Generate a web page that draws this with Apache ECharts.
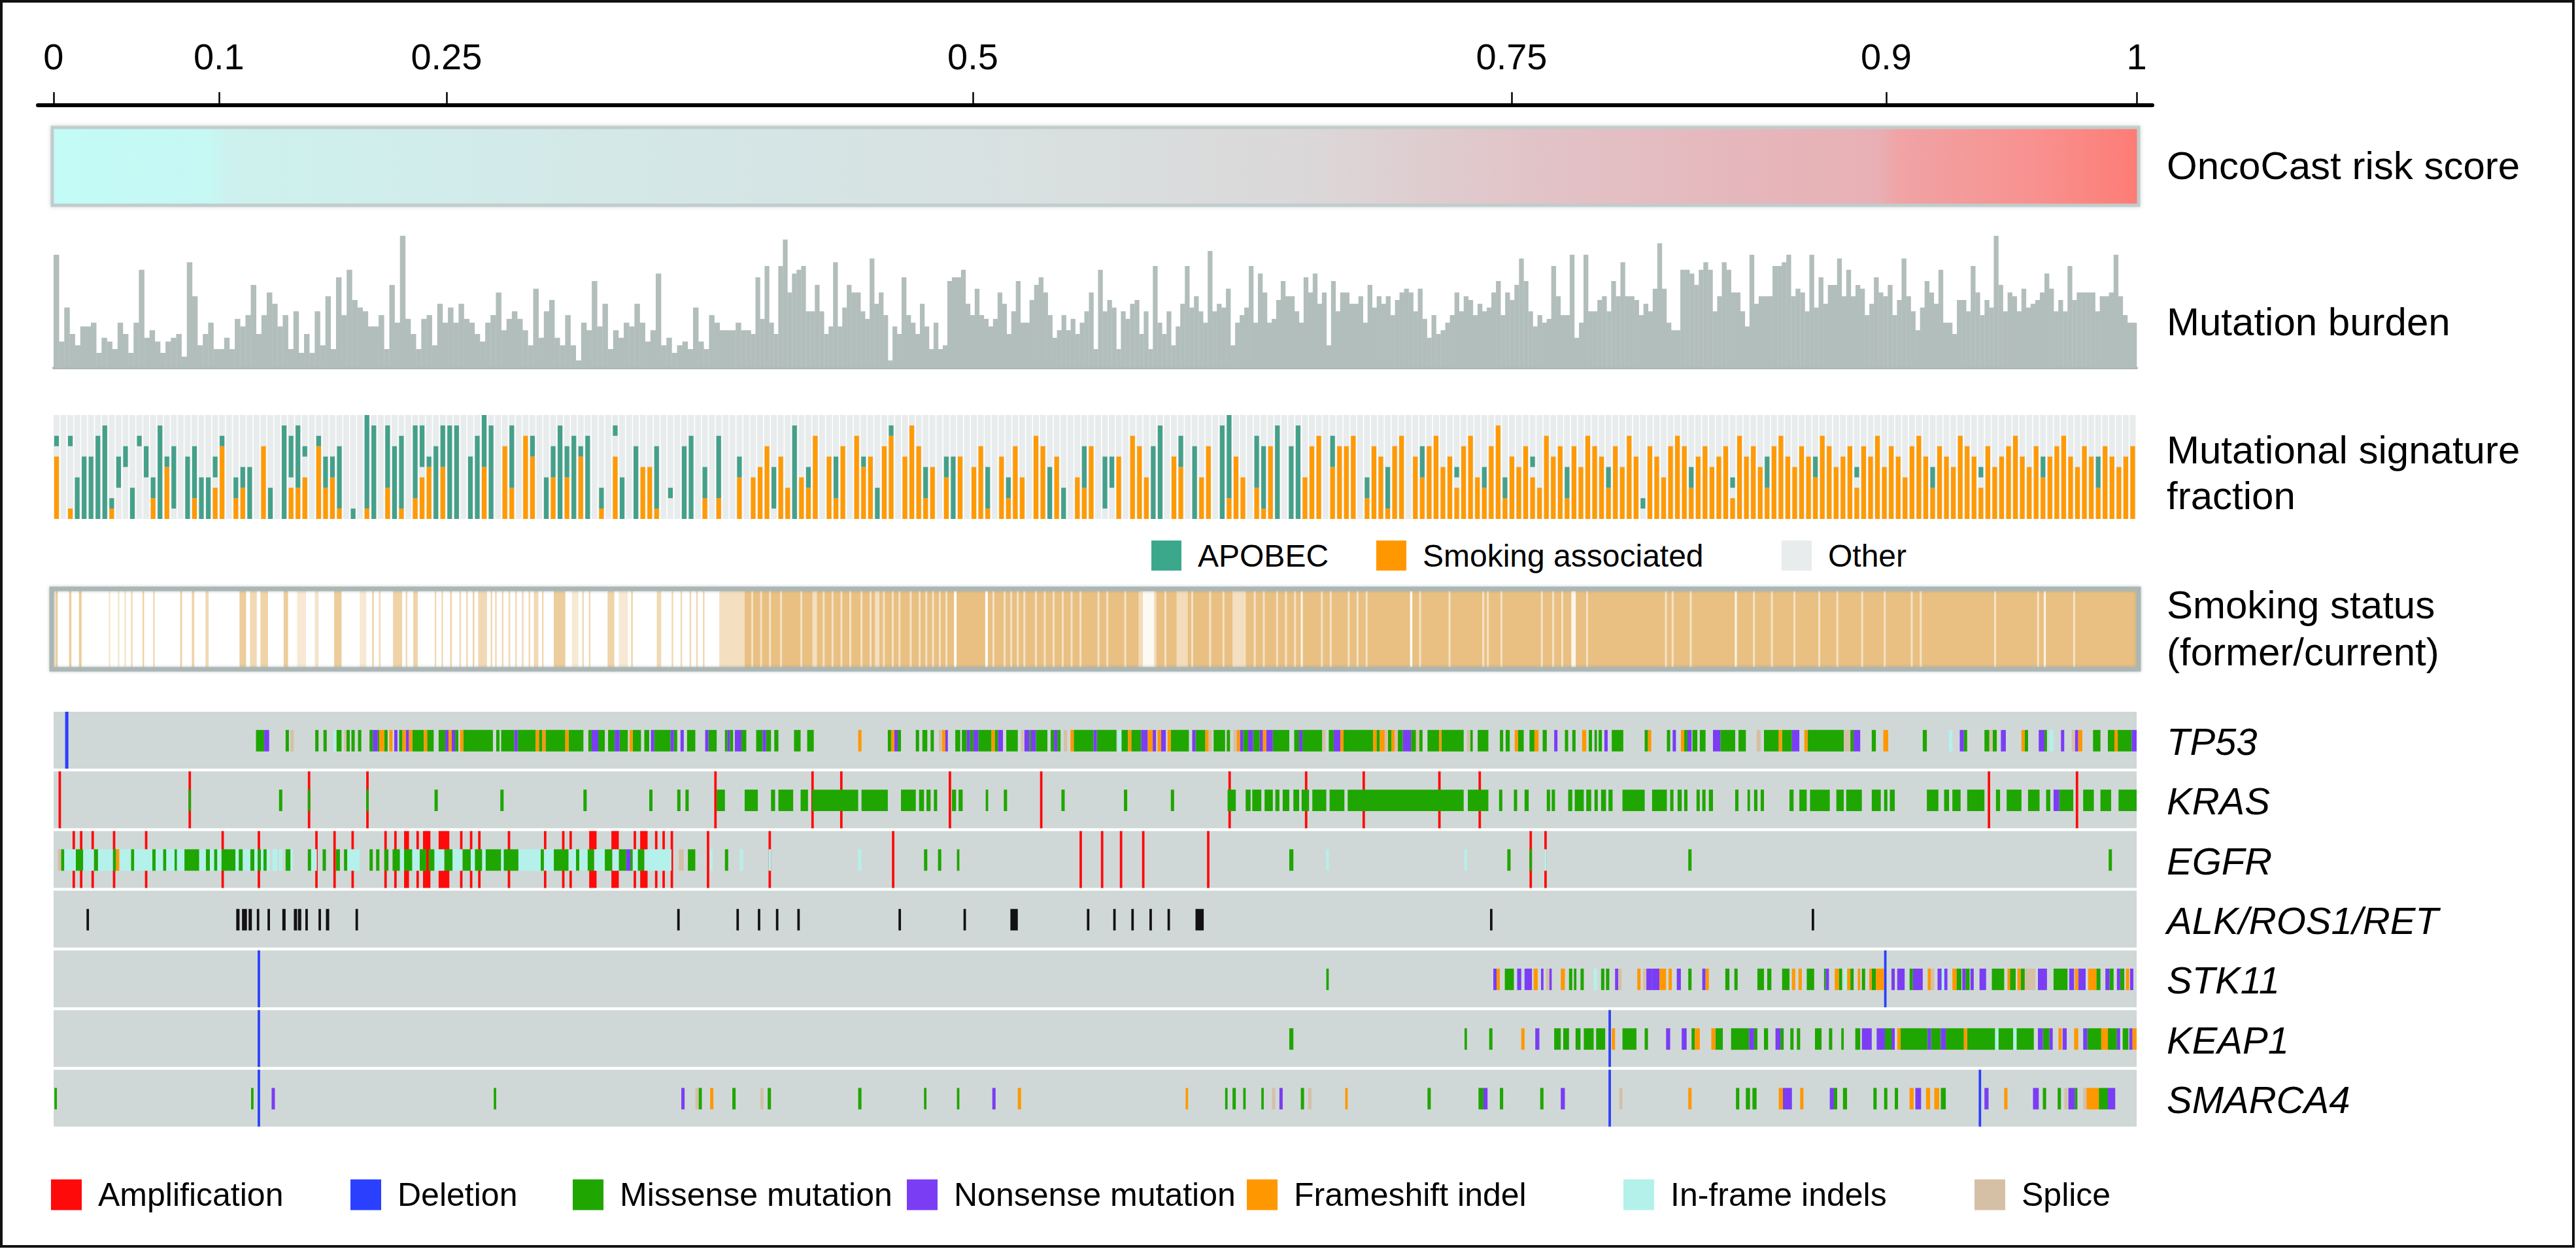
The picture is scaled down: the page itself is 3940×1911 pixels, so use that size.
<!DOCTYPE html>
<html><head><meta charset="utf-8">
<script src="https://cdn.jsdelivr.net/npm/echarts@6/dist/echarts.min.js"></script>
<style>html,body{margin:0;padding:0;background:#fff}#chart{width:3940px;height:1911px}</style>
</head><body><div id="chart"></div>
<script>
// ---------------- DATA ----------------
const nRanks = 1266; // patients ordered by OncoCast risk (rank axis extent)
const riskTickLabels = ['0', '0.1', '0.25', '0.5', '0.75', '0.9', '1'];
const riskTickRanks = [0, 100.5, 238.8, 558.7, 886.1, 1113.8, 1266];

// mutation burden (relative heights), three consecutive rank chunks
const burdenSpanLow = [0, 421], burdenSpanMid = [421, 843], burdenSpanHigh = [843, 1266];
const burdenLow = [30,7,16,9,6,11,11,12,4,8,7,5,12,9,4,12,26,8,10,7,4,7,8,9,3,28,19,6,9,12,5,5,8,5,13,11,14,22,9,14,20,17,11,14,5,15,4,9,4,15,6,19,5,24,14,26,18,16,15,11,11,14,5,22,12,35,13,9,5,13,14,6,17,12,16,12,17,13,12,9,7,12,14,20,10,13,15,13,10,6,21,8,15,18,8,6,14,6,2,12,10,23,11,17,5,10,8,12,11,17,12,7,10,25,6,8,4,6,7,5,16,7,5,14,12,10,10,10,12,10];
const burdenMid = [10,9,24,13,27,12,9,27,34,20,25,26,27,15,15,22,15,9,11,28,11,16,22,20,20,15,13,29,17,20,14,2,11,9,24,14,12,9,17,11,5,12,5,6,23,24,24,26,17,14,21,14,13,11,13,20,17,9,15,23,12,12,18,22,24,20,14,8,10,14,10,13,9,12,15,20,5,26,15,18,16,5,15,13,17,18,9,15,5,27,12,9,15,6,11,17,27,16,19,15,12,31,15,17,16,21,6,12,14,16,27,12,25,20,12,13,18,23,19,19,15,12,24,20,25,17,20,6,23,15,20,20,17,17,19,12,22,16,19,17,19,14,18,20,21,20,15,21,13,8,14,9];
const burdenHigh = [10,12,14,20,15,19,18,14,17,15,16,20,23,14,20,18,22,29,23,15,11,14,12,13,27,19,14,14,30,8,12,30,15,15,18,19,15,23,19,28,19,19,18,14,17,15,21,33,21,12,10,10,26,26,25,22,26,28,26,15,19,28,26,20,20,15,11,30,17,19,19,19,27,27,28,30,19,21,20,15,30,16,24,17,22,22,29,19,26,19,22,21,14,17,24,20,19,22,14,18,29,19,15,10,16,23,20,17,26,12,12,9,18,18,15,27,20,14,18,16,35,22,15,20,19,15,21,16,17,18,20,25,21,15,18,15,27,18,20,20,20,20,15,19,19,20,30,19,14,12,12];

// mutational signature per column: token "s g a" = smoking tenths, other-gap tenths, APOBEC tenths
const sigLeft = "611 000 161 004 006 006 008 009 101 033 052 003 071 043 202 009 501 016 000 006 205 004 004 312 701 000 202 302 005 000 700 003 000 009 314 306 421 000 701 303 402 106 000 001 000 109 009 000 306 007 107 000 207 414 501 007 504 009 009 000 006 008 505 009 000 700 306 000 800 602 000 004 403 009 403 008 601 008 000 102 000 621 004 000 007 500 500 106 000 021 000 007 008 000 203 000 206 000 000 402 000 400";
const sigMiddle = "500 700 014 600 300 009 400 302 800 000 600 204 700 000 800 501 600 003 700 801 000 600 900 700 203 500 000 402 006 600 000 500 700 104 000 600 202 700 400 000 800 700 005 600 003 000 400 304 700 000 015 033 600 000 800 700 400 007 009 000 600 503 000 007 400 700 000 009 208 600 400 000 305 106 700 009 000 007 009 400 700 800 000 503 700 700 800 000 202 700 600 104 700 800 000 600 403 700 800 500";
const sigRight = "600 311 700 800 400 302 700 900 202 600 500 700 411 300 800 600 700 203 700 500 800 700 600 302 700 500 800 600 011 700 600 400 700 800 700 302 600 700 500 600 700 211 800 600 700 500 303 700 800 600 500 700 600 402 800 700 500 600 700 311 700 600 800 500 700 600 400 700 800 600 302 700 600 500 800 700 600 311 700 500 600 700 800 600 500 700 402 600 700 800 600 500 700 600 303 700 600 500 600 700";

// smoking status: [rankFrom, rankTo, opacity]
const smokerStripesLeft = [[0,1,0.4],[1.3,2.5,0.8],[9.4,10.8,0.8],[15.4,17,0.8],[33.5,34.5,0.4],[39,40,0.4],[43,44,0.4],[47,48,0.6],[54,55,0.7],[60.5,61.5,0.6],[77,78,0.8],[84,85.5,0.7],[92.3,94.2,0.6],[113,117,0.8],[119.4,123.5,0.6],[125.7,130.3,0.7],[139.8,142.5,0.8],[148,153.4,0.35],[158.8,161,0.45],[170.5,175,0.8],[186,190,0.35],[193.6,194.6,0.7],[197.7,198.7,0.6],[206.3,211.8,0.7],[214,215,0.6],[218.6,221.3,0.7],[231.6,232.6,0.6],[235.7,236.7,0.6],[241,242,0.7],[246.6,247.6,0.6],[250.7,251.7,0.6],[254.7,255.7,0.7],[258,263.4,0.6],[265.6,266.6,0.6],[268.3,269.3,0.6],[272.4,273.4,0.6],[276.5,277.5,0.6],[280.5,281.5,0.6],[284.6,285.6,0.6],[288.7,289.7,0.6],[291.9,294.6,0.6],[296.8,297.8,0.6],[304,311,0.8],[315,319,0.35],[321.3,322.3,0.6],[325.3,326.3,0.6],[336.7,340.8,0.7],[343.5,349,0.35],[351,352,0.7],[366.6,369.3,0.6],[375.6,376.6,0.6],[381,382,0.6],[386.5,387.5,0.6],[390.5,391.5,0.6],[394.6,395.6,0.6],[404.6,420,0.5]];
const smokerBlockRight = [420, 1266, 1];
const neverStripesRight = [[424,425.2,0.55],[429.4,430.6,0.55],[434.8,436,0.55],[441.5,442.7,0.55],[453.8,455,0.55],[461.2,463.9,0.5],[467.4,468.6,0.55],[472.8,474,0.55],[478.2,479.4,0.55],[483.6,484.8,0.55],[490.4,491.6,0.55],[495.9,497.1,0.55],[499.2,501.9,0.5],[504,505.2,0.55],[509.4,510.6,0.55],[513.5,514.7,0.55],[520.3,521.5,0.55],[525.7,526.9,0.55],[529.8,531,0.55],[533.9,535.1,0.55],[538,539.2,0.55],[542,543.2,0.55],[547.2,548.8,0.95],[566.2,567.8,0.95],[570.6,571.8,0.55],[577.4,578.6,0.55],[581.4,582.6,0.55],[585.4,586.6,0.55],[589.4,590.6,0.55],[596.4,597.6,0.55],[601.8,603,0.55],[607.2,608.4,0.55],[612.7,613.9,0.55],[618.1,619.3,0.55],[623.5,624.7,0.55],[634.4,635.6,0.55],[639.8,641,0.55],[650.7,651.9,0.55],[659.4,662,0.45],[662,668.9,0.9],[668.9,670.3,0.45],[675.1,676.3,0.55],[682.5,689.3,0.45],[691.4,692.6,0.55],[702.3,703.5,0.55],[710.4,711.6,0.55],[716.5,724.6,0.5],[729.4,730.6,0.55],[734.9,736.1,0.55],[743,744.2,0.55],[748.4,749.6,0.55],[753.9,755.1,0.55],[758,759.2,0.85],[770.2,771.4,0.55],[775.6,776.8,0.55],[786.5,787.7,0.55],[791.9,793.1,0.55],[797.4,798.6,0.55],[824.4,825.8,0.95],[829.9,831.1,0.55],[847.8,849,0.55],[868.3,869.5,0.55],[871.1,872.3,0.55],[879.3,880.5,0.55],[903.9,905.1,0.55],[910.8,912,0.55],[916.3,917.5,0.55],[922.4,925.1,0.85],[931.4,932.6,0.55],[979.3,980.5,0.55],[983.4,984.6,0.55],[994.4,995.6,0.55],[1021.8,1023,0.85],[1032.8,1034,0.55],[1043.7,1044.9,0.55],[1057.4,1058.6,0.55],[1072.5,1073.7,0.55],[1083.5,1084.7,0.55],[1098.6,1099.8,0.55],[1112.3,1113.5,0.55],[1128.7,1129.9,0.55],[1134.2,1135.4,0.55],[1179.4,1180.6,0.55],[1205.5,1206.7,0.55],[1209.6,1210.8,0.85],[1227.4,1228.6,0.55]];

// gene alterations: "from-to:type" on the rank axis
// a=amplification d=deletion m=missense n=nonsense f=frameshift i=in-frame s=splice x=fusion
const geneNames = ['TP53', 'KRAS', 'EGFR', 'ALK/ROS1/RET', 'STK11', 'KEAP1', 'SMARCA4'];
const tp53Alts = "7-9:d 123-128:m 128-131:n 141-143:m 144-146:s 159-161:m 164-166:m 170-171.5:i 172-175:m 176.5-178:s 178-180:m 181-183:m 185-187:m 192-194:m 194-197:n 197-198:m 198-201:f 201-203:m 204-206:f 207-209:n 210-212:m 212-214:f 214-216:n 216-218:f 218-225:m 225-227:f 227-231:m 234-238:m 238-240:n 240-242:f 242-244:n 244-246:m 247-249:f 249-267:m 269-271:m 272-280:m 280-282:n 282-293:m 293-295:f 295-297:m 297-299:f 299-311:m 311-313:f 313-322:m 325-327:m 327-331:n 331-335:m 337-341:m 341-344:n 344-349:m 350-352:f 352-357:m 359-362:m 363-365:n 365-375:m 375-377:n 377-379:m 381-383:n 385-390:m 396-398:n 398-403:m 408-409.5:m 409.5-411:n 411-413:m 414-418:n 418-421:m 427-431:m 431-433:n 433-436:m 438-440.5:m 450-454:m 458-462:m 489-491:f 507-509:m 509-511:f 511-513:n 513-515:m 524-526:m 528-531:m 533-535:m 538-540:s 540-542:f 542-543.5:n 548-551:m 552-555:m 555-557:n 557-559:m 559-562:n 562-570:m 570-572:f 572-574:m 574-577:n 579-586:m 588-589.5:s 590-593:n 593-594:m 594-597:n 597-604:m 606-608:m 608-610:n 610-612:m 614-616:s 618-620:f 620-632:m 632-634:n 634-646:m 647-649:i 649-653:m 653-655:f 655-661:m 661-665:n 665-668:f 668-670:n 670-671:s 671-673:f 673-676:n 677-679:f 679-690:m 692-694:n 694-700:m 700-702:f 702-704:s 705-712:m 713-715:m 717-719:s 719-721:f 721-723:n 723-726:m 726-729:n 729-733:m 733-735:n 735-737:f 737-741:n 741-751:m 754-757:m 757-759:n 759-771:m 771-773:s 775-778:m 778-782:n 782-784:f 784-802:m 802-804:f 804-806:m 806-809:f 809-811:s 811-813:m 813-815:f 815-817:s 817-820:m 820-825:n 825-828:m 828-830:s 830-832:m 835-842:m 842-843.5:f 843.5-857:m 859-861:s 861-862.5:m 865.5-872:m 879-881:m 882.5-885:m 888-890:f 890-893.5:m 897-900:m 900-902.5:f 905-907.5:m 912-914:n 918.5-920.5:m 923-925:m 929-931.5:f 933-935:m 936.5-938:m 939-941:m 942.5-944.5:n 947-954:m 967-969:m 969-971:f 980.5-982.5:m 984-986:n 989-991:f 991-993:m 993-995.5:n 996-999:m 1000.5-1004:m 1008.5-1013:n 1013-1022:m 1024-1028.5:m 1035-1037.5:s 1039.5-1048.5:m 1048.5-1050.5:f 1050.5-1056.5:m 1056.5-1061:n 1064-1066:f 1066-1088:m 1088-1092:s 1092-1094:m 1094-1098:n 1105-1107.5:m 1112-1115:f 1136-1138.5:m 1152-1154:i 1158.5-1161:n 1161-1163:m 1173.5-1176.5:m 1176.5-1178.5:s 1178.5-1181:m 1183.5-1186.5:n 1196-1198:f 1198-1200:m 1206.5-1210:n 1210-1211.5:m 1213-1215.5:i 1220-1222:n 1226.5-1228.5:s 1228.5-1230.5:n 1230.5-1233:f 1239.5-1244:m 1248.5-1252.5:m 1252.5-1254.5:f 1254.5-1263:m 1263-1266:n";
const krasAlts = "3-4.5:a 82-83.5:a 82-83.5:m 137-139:m 154.5-156:a 154.5-156:m 190-191.5:a 190-191.5:m 231.5-233.5:m 271.5-273.5:m 322-324:m 362-364:m 379-381:m 384-386:m 401.5-403:a 403-408:m 420-428:m 436-438.5:m 440.5-449.5:m 454-458.5:m 460.5-462:a 461-489:m 478-479.5:a 491-507:m 515-524:m 526-529:m 530.5-533:m 535-537:m 544-545.5:a 546-548.5:m 550-552.5:m 566.5-568:m 577.5-579.5:m 599.5-601:a 612.5-614.5:m 650.5-652.5:m 679-681:m 714-715.5:a 713.5-718.5:m 724.5-727.5:m 728.5-734:m 736-741:m 742.5-745:m 747-751:m 753.5-757:m 760.5-762:a 758.5-763:m 765-773.5:m 775.5-784.5:m 795.5-797:a 841.5-843:a 786.5-857:m 866-867.5:a 859.5-872:m 878.5-880.5:m 887.5-889.5:m 894-896.5:m 907.5-909.5:m 910.5-912.5:m 920.5-923:m 924.5-930:m 931.5-934.5:m 936.5-938.5:m 940.5-943.5:m 945-947.5:m 953.5-967:m 971.5-980.5:m 982.5-984.5:m 987-989.5:m 991-993:m 998.5-1000.5:m 1002-1004:m 1006-1008.5:m 1022-1024:m 1029.5-1031:m 1033.5-1035.5:m 1037.5-1039.5:m 1055-1057.5:m 1061-1065.5:m 1067.5-1079.5:m 1083.5-1088:m 1089.5-1099:m 1105-1110.5:m 1112.5-1114.5:m 1116-1119:m 1138.5-1145.5:m 1149-1152:m 1154-1159:m 1163-1173.5:m 1175.5-1177:a 1180.5-1183:m 1187-1196:m 1200-1207:m 1211-1213.5:m 1215.5-1219:n 1229-1230.5:a 1219-1227.5:m 1233.5-1240:m 1244-1250.5:m 1255-1266:m";
const egfrAmps = "11.5-13:a 16-17.5:a 23-24.5:a 36-37.5:a 55.5-57:a 102-103.5:a 124-125.5:a 159-160.5:a 170-171.5:a 181-182.5:a 201-202.5:a 207-208.5:a 213-216:a 220.5-222:a 224.5-229:a 234-240.5:a 247-248.5:a 253-254.5:a 258-259.5:a 276-277.5:a 298-299.5:a 309-310.5:a 313.5-315:a 325.5-330:a 339-343.5:a 352.5-354:a 356.5-361:a 365.5-367:a 370-371.5:a 375-376.5:a 397-398.5:a 434.5-436:a 509.5-511:a 623.5-625:a 636.5-638:a 648-649.5:a 661.5-663:a 701-702.5:a 897-898.5:a 906-907.5:a";
const egfrMutations = "2.5-4.5:s 4.5-6.5:m 6.5-13.5:i 13.5-18:m 18-24.5:i 24.5-27:m 27-36:i 36-38:m 38-40:f 40-47:i 47-49:m 49-60:i 60-62:m 62-66.5:i 66.5-68.5:m 68.5-73.5:i 73.5-75:m 75-79.5:i 79.5-88.5:m 88.5-92.5:i 92.5-95:m 95-97.5:i 97.5-99.5:m 99.5-102:i 102-110.5:m 110.5-112.5:i 112.5-115:m 115-119.5:i 119.5-122:m 122-124:i 124-126:m 126-127.5:i 127.5-129.5:m 129.5-131.5:i 133-136:i 137-139:i 141-144:m 144-145.5:i 154.5-156.5:m 156.5-160:i 163.5-165.5:m 171.5-174:m 176.5-178.5:m 178.5-186:i 192-194:m 196-198:m 201-203.5:m 206-210.5:m 210.5-213:i 213-218:m 218-222.5:i 222.5-226.5:m 228-231.5:m 231.5-237.5:i 237.5-242.5:m 242.5-248.5:i 248.5-253.5:m 253.5-256:i 256-260.5:m 260.5-262.5:i 262.5-272:m 272-273.5:i 273.5-282.5:m 282.5-296:i 296-298:m 298-304:i 304-313:m 313-317.5:i 317.5-319.5:m 319.5-324.5:i 324.5-328.5:m 328.5-335:i 335-339.5:m 339.5-343.5:i 343.5-348:m 348-350.5:n 350.5-352:m 352-355:i 355-359:m 359-375.5:i 380-383:s 385.5-390:m 399-400.5:i 408-410:m 417-419:i 434.5-436:i 489-491:i 529-531:m 537.5-539.5:m 549-550.5:m 751-753.5:m 773.5-775:i 857.5-859:i 883.5-885.5:m 897-898.5:m 906-907.5:i 993.5-995.5:m 1249-1251:m";
const fusionAlts = "20-21.5:x 111-113:x 114.5-117.5:x 118.5-120.5:x 123.5-125:x 130-131.5:x 139-141:x 146-148:x 148.5-150.5:x 153-154.5:x 161-162.5:x 165.5-167.5:x 183.5-185:x 379-380.5:x 415-416.5:x 428-429.5:x 439-440.5:x 452-453.5:x 513.5-515:x 553-554.5:x 581.5-586:x 628-629.5:x 644-645.5:x 655-656.5:x 666-667.5:x 677-678.5:x 694-699:x 873-874.5:x 1068.5-1070:x";
const stk11Alts = "124-125.5:d 773.5-775:m 875-877:n 877-879:f 882-887.5:m 889.5-892:n 894-898.5:n 899.5-902:f 904-905.5:n 907-909:s 909-910.5:n 916-918.5:f 921-923:m 924-925.5:m 928-930:m 936-938:i 940.5-942.5:m 943.5-945.5:m 949-951:n 951-953:s 962.5-964.5:f 966-968:s 968-971.5:n 971.5-976:n 976-980:f 981.5-983.5:f 986.5-989:n 993.5-995.5:m 1002-1004:n 1004-1006:f 1016-1018.5:m 1021.5-1023.5:m 1035.5-1039.5:m 1041.5-1044:m 1050.5-1055:m 1056.5-1058.5:f 1060.5-1062.5:f 1065.5-1070:m 1076-1077:m 1077-1079:n 1082.5-1085:f 1085-1087:m 1088-1090:i 1090-1092:f 1092-1094:m 1096.5-1098:f 1099-1101:m 1103.5-1105:f 1105-1107.5:m 1107.5-1112.5:f 1112.5-1114:d 1117-1119:n 1120.5-1125:n 1128-1130:m 1130-1136:n 1139-1141:f 1141-1143:s 1145-1147.5:n 1147.5-1149:i 1149-1151:n 1154-1156.5:f 1156.5-1159.5:m 1160-1162:n 1162-1164.5:m 1165-1167:n 1170.5-1174.5:n 1178-1185.5:m 1187.5-1189:f 1189-1192.5:m 1193.5-1195.5:f 1195.5-1198:m 1198-1204.5:s 1206-1211.5:n 1215.5-1224:m 1225-1228:n 1228.5-1230.5:f 1230.5-1235:n 1236.5-1241.5:f 1241.5-1244:m 1247-1249.5:n 1249.5-1252:m 1254-1256:n 1256-1258.5:m 1259.5-1261.5:f 1262-1264:n";
const keap1Alts = "124-125.5:d 751-753.5:m 857.5-859:m 872.5-874.5:m 892-894:f 900.5-903:n 912-916:m 917.5-921:m 925-928:m 930-936:m 937.5-943:m 945-946.5:d 947-949:f 953.5-962:m 967-969:m 980-982.5:n 989.5-992.5:n 995.5-997.5:m 997.5-1000.5:f 1007.5-1010:f 1010-1014.5:m 1019.5-1030.5:m 1030.5-1033.5:n 1033.5-1035.5:m 1039.5-1042:m 1046.5-1049.5:n 1049.5-1051.5:m 1055.5-1057.5:m 1059.5-1061.5:m 1070.5-1074.5:m 1079-1081:m 1086.5-1088:m 1095-1098:m 1099-1105:n 1108-1113:n 1113-1117:m 1117-1119:n 1120.5-1122.5:f 1122.5-1139:m 1139-1141:n 1141-1147:m 1147-1150:n 1150-1161:m 1161-1163:f 1163-1180:m 1180-1182:i 1182-1191:m 1191-1193:i 1193-1203.5:m 1206-1209:n 1209-1213:m 1213-1215:n 1218.5-1220.5:f 1221-1223.5:n 1228-1230.5:f 1233.5-1236:n 1236-1244.5:m 1244.5-1248.5:f 1248.5-1254:m 1254-1256:n 1257.5-1261:m 1261.5-1263.5:n 1263.5-1266:f";
const smarca4Alts = "0.5-2:m 120-121.5:m 124-125.5:d 132.5-134.5:n 267.5-269:m 381.5-383.5:n 390-392:s 392-394:m 399-401:f 412.5-414.5:m 429.5-431.5:s 434-436:m 489-491:m 529-530.5:m 549-550.5:m 570.5-572.5:n 586-588:f 688-689.5:f 712-713.5:m 716.5-718.5:m 723-724.5:m 734-735.5:m 740.5-742.5:s 745-747:n 758-760:m 762.5-764.5:s 785-786.5:f 835-837:m 866-869:m 869-871.5:n 879-881:m 903.5-905.5:m 916-918.5:n 945-946.5:d 951.5-953.5:s 993.5-995.5:f 1022.5-1024.5:m 1028.5-1031:m 1032.5-1035:m 1048.5-1051:f 1051-1056.5:n 1061.5-1063.5:f 1079.5-1082:n 1082-1084:m 1087.5-1090:m 1106-1108:m 1112.5-1114.5:m 1119-1121:m 1128-1130.5:f 1131.5-1135:n 1138-1140.5:f 1143-1146:f 1147-1150:m 1170-1171.5:d 1173.5-1176:n 1185.5-1187.5:f 1203-1206.5:n 1209-1211:m 1218-1220:m 1222-1224:s 1224.5-1228.5:n 1228.5-1230:m 1233.5-1235.5:s 1235.5-1243:f 1243-1248.5:m 1248.5-1253:n";

// ---------------- STYLE ----------------
const FONT = 'Liberation Sans, Arial, Helvetica, sans-serif';
const riskStops = [[0,'#c3fbf6'],[0.075,'#c6f8f4'],[0.085,'#cdf1ee'],[0.25,'#d3e9e8'],[0.45,'#d8e1e1'],[0.6,'#dbd8d9'],[0.7,'#e1c5c9'],[0.8,'#e5b8bd'],[0.875,'#e8b0b4'],[0.885,'#f0a3a5'],[0.95,'#f8918f'],[1,'#fd7c75']];
const altTypes = [
  {code:'a', name:'Amplification', color:'#ff0a0a', full:true},
  {code:'m', name:'Missense mutation', color:'#1fa600'},
  {code:'n', name:'Nonsense mutation', color:'#7a3df4'},
  {code:'f', name:'Frameshift indel', color:'#ff9800'},
  {code:'i', name:'In-frame indels', color:'#b4f1eb'},
  {code:'s', name:'Splice', color:'#d5c0a6'},
  {code:'x', name:'Fusion', color:'#121212'},
  {code:'d', name:'Deletion', color:'#2b40ff', full:true}
];

// ---------------- PARSE ----------------
function parseAlts(str) {
  return str.trim().split(/\s+/).map(t => {
    const [r, c] = t.split(':');
    const [a, b] = r.split('-').map(Number);
    return [a, b, c];
  });
}
const geneRows = [tp53Alts, krasAlts, egfrAmps + ' ' + egfrMutations, fusionAlts, stk11Alts, keap1Alts, smarca4Alts];
const altData = {};
altTypes.forEach(t => altData[t.code] = []);
geneRows.forEach((s, gi) => parseAlts(s).forEach(([a, b, c]) => altData[c].push([a, b, gi])));

function parseSig(str) { return str.trim().split(/\s+/).map(t => [+t[0], +t[1], +t[2]]); }
const sigCols = parseSig(sigLeft).concat(parseSig(sigMiddle), parseSig(sigRight));
const sigData = sigCols.map((c, i) => [i, c[0], c[1], c[2]]);
const sigCount = sigCols.length;

function burdenBars(values, span) {
  const w = (span[1] - span[0]) / values.length;
  return values.map((v, i) => [span[0] + i * w, span[0] + (i + 1) * w, v]);
}
const burdenData = burdenBars(burdenLow, burdenSpanLow).concat(burdenBars(burdenMid, burdenSpanMid), burdenBars(burdenHigh, burdenSpanHigh));

const smokingData = smokerStripesLeft.map(s => [s[0], s[1], s[2], 1])
  .concat([[smokerBlockRight[0], smokerBlockRight[1], smokerBlockRight[2], 1]])
  .concat(neverStripesRight.map(s => [s[0], s[1], s[2], 0]));

// ---------------- RENDERERS ----------------
function altRenderer(color, full) {
  return function (params, api) {
    const row = api.value(2);
    const p0 = api.coord([api.value(0), row]);
    const p1 = api.coord([api.value(1), row]);
    const band = api.size([0, 1])[1];
    const top = p0[1] - band / 2;
    const y = full ? top : top + band * 0.305;
    const h = full ? band * 0.953 : band * 0.36;
    return {type: 'rect', shape: {x: p0[0], y: y, width: Math.max(p1[0] - p0[0], 2.5), height: h}, style: {fill: color}};
  };
}
function sigRenderer(kind, color) {
  return function (params, api) {
    const cs = params.coordSys;
    const i = api.value(0), s = api.value(1), g = api.value(2), a = api.value(3);
    const x0 = api.coord([i, 0])[0], x1 = api.coord([i + 1, 0])[0];
    const w = x1 - x0, H = cs.height, bottom = cs.y + cs.height;
    if (kind === 'other') return {type: 'rect', shape: {x: x0, y: cs.y, width: w - 1.6, height: H}, style: {fill: color}};
    const bw = w * 0.68, bx = x0 + (w - 1.6 - bw) / 2;
    if (kind === 'smoke') {
      if (!s) return null;
      return {type: 'rect', shape: {x: bx, y: bottom - s / 10 * H, width: bw, height: s / 10 * H}, style: {fill: color}};
    }
    if (!a) return null;
    const yb = bottom - (s + g) / 10 * H;
    return {type: 'rect', shape: {x: bx, y: yb - a / 10 * H, width: bw, height: a / 10 * H}, style: {fill: color}};
  };
}

const series = [];
// risk score bar
series.push({
  type: 'custom', name: 'risk', xAxisIndex: 1, yAxisIndex: 1, silent: true,
  data: [[0, nRanks]],
  renderItem(params, api) {
    const cs = params.coordSys;
    const x0 = api.coord([api.value(0), 0])[0], x1 = api.coord([api.value(1), 0])[0];
    return {type: 'rect', shape: {x: x0 - 2, y: cs.y + 2, width: x1 - x0 + 5, height: cs.height - 4},
      style: {fill: new echarts.graphic.LinearGradient(0, 0, 1, 0, riskStops.map(s => ({offset: s[0], color: s[1]}))),
        stroke: '#c1cccc', lineWidth: 5, shadowBlur: 6, shadowColor: 'rgba(110,130,130,0.35)'}};
  }
});
// mutation burden
series.push({
  type: 'custom', name: 'burden', xAxisIndex: 2, yAxisIndex: 2, silent: true,
  encode: {x: [0, 1], y: 2}, data: burdenData,
  renderItem(params, api) {
    const p0 = api.coord([api.value(0), api.value(2)]);
    const p1 = api.coord([api.value(1), 0]);
    return {type: 'rect', shape: {x: p0[0], y: p0[1], width: p1[0] - p0[0] + 0.3, height: p1[1] - p0[1]}, style: {fill: '#b2bebb'}};
  }
});
// signature
series.push({type: 'custom', name: 'Other', xAxisIndex: 3, yAxisIndex: 3, silent: true, itemStyle: {color: '#e8ecec'}, encode: {x: 0}, data: sigData, renderItem: sigRenderer('other', '#e8ecec')});
series.push({type: 'custom', name: 'Smoking associated', xAxisIndex: 3, yAxisIndex: 3, silent: true, itemStyle: {color: '#ff9800'}, encode: {x: 0}, data: sigData, renderItem: sigRenderer('smoke', '#ff9a05')});
series.push({type: 'custom', name: 'APOBEC', xAxisIndex: 3, yAxisIndex: 3, silent: true, itemStyle: {color: '#3ba88c'}, encode: {x: 0}, data: sigData, renderItem: sigRenderer('apobec', '#45a08a')});
// smoking status
series.push({
  type: 'custom', name: 'smoking', xAxisIndex: 4, yAxisIndex: 4, silent: true,
  encode: {x: [0, 1]}, data: smokingData,
  renderItem(params, api) {
    const cs = params.coordSys;
    const x0 = api.coord([api.value(0), 0])[0], x1 = api.coord([api.value(1), 0])[0];
    const smoker = api.value(3) === 1;
    const col = smoker ? 'rgba(233,192,130,' + api.value(2) + ')' : 'rgba(255,255,255,' + api.value(2) + ')';
    return {type: 'rect', shape: {x: x0, y: cs.y, width: Math.max(x1 - x0, 2), height: cs.height}, style: {fill: col}};
  }
});
series.push({
  type: 'custom', name: 'smokingFrame', xAxisIndex: 4, yAxisIndex: 4, silent: true, data: [[0, nRanks]],
  renderItem(params, api) {
    const cs = params.coordSys;
    const x0 = api.coord([api.value(0), 0])[0], x1 = api.coord([api.value(1), 0])[0];
    return {type: 'rect', shape: {x: x0 - 3, y: cs.y + 3, width: x1 - x0 + 6, height: cs.height - 6},
      style: {fill: 'none', stroke: '#abb7b6', lineWidth: 7, shadowBlur: 5, shadowColor: 'rgba(120,135,135,0.45)'}};
  }
});
// gene rows background
series.push({
  type: 'custom', name: 'geneBg', xAxisIndex: 5, yAxisIndex: 5, silent: true,
  encode: {x: [0, 1], y: 2}, data: geneNames.map((g, i) => [0, nRanks, i]),
  renderItem: altRenderer('#d0d8d7', true)
});
altTypes.forEach(t => {
  series.push({
    type: 'custom', name: t.name, xAxisIndex: 5, yAxisIndex: 5, silent: true,
    itemStyle: {color: t.color}, encode: {x: [0, 1], y: 2}, data: altData[t.code],
    renderItem: altRenderer(t.color, !!t.full)
  });
});

function legendItem(name, left, top, size, fontSize) {
  return {data: [name], left: left, top: top, padding: 0, icon: 'rect', itemWidth: size, itemHeight: size,
    selectedMode: false, textStyle: {fontSize: fontSize, fontFamily: FONT, color: '#000', padding: [0, 0, 0, 20]}};
}

const hiddenX = (max) => ({type: 'value', min: 0, max: max, show: false});
const hiddenY = (min, max) => ({type: 'value', min: min, max: max, show: false});

const option = {
  animation: false,
  backgroundColor: '#ffffff',
  grid: [
    {left: 58, top: 160, width: 3234, height: 1},
    {left: 82, top: 193, width: 3186, height: 123},
    {left: 82, top: 355, width: 3186, height: 208},
    {left: 82, top: 635, width: 3186, height: 159},
    {left: 82, top: 898, width: 3186, height: 129},
    {left: 82, top: 1089, width: 3186, height: 639}
  ],
  xAxis: [
    {type: 'value', gridIndex: 0, position: 'top', min: -9.5, max: 1275.5,
      axisLine: {show: true, lineStyle: {color: '#000', width: 6}},
      axisTick: {show: true, length: 20, lineStyle: {color: '#000', width: 2.5}, customValues: riskTickRanks},
      axisLabel: {show: true, margin: 46, fontSize: 56, fontFamily: FONT, color: '#000', customValues: riskTickRanks,
        formatter: v => { const k = riskTickRanks.findIndex(r => Math.abs(r - v) < 1e-6); return k >= 0 ? riskTickLabels[k] : ''; }},
      splitLine: {show: false}},
    Object.assign(hiddenX(nRanks), {gridIndex: 1}),
    {type: 'value', gridIndex: 2, min: 0, max: nRanks, axisLine: {show: true, lineStyle: {color: '#a9b6b3', width: 4}},
      axisTick: {show: false}, axisLabel: {show: false}, splitLine: {show: false}},
    Object.assign(hiddenX(sigCount), {gridIndex: 3}),
    Object.assign(hiddenX(nRanks), {gridIndex: 4}),
    Object.assign(hiddenX(nRanks), {gridIndex: 5})
  ],
  yAxis: [
    Object.assign(hiddenY(0, 1), {gridIndex: 0}),
    Object.assign(hiddenY(0, 1), {gridIndex: 1}),
    Object.assign(hiddenY(0, 36), {gridIndex: 2}),
    Object.assign(hiddenY(0, 1), {gridIndex: 3}),
    Object.assign(hiddenY(0, 1), {gridIndex: 4}),
    {type: 'category', gridIndex: 5, data: geneNames, inverse: true, position: 'right',
      axisLine: {show: false}, axisTick: {show: false}, splitLine: {show: false},
      axisLabel: {show: true, margin: 46, fontSize: 58, fontStyle: 'italic', fontFamily: FONT, color: '#000'}}
  ],
  legend: [
    legendItem('APOBEC', 1761, 826, 46, 48),
    legendItem('Smoking associated', 2105, 826, 46, 48),
    legendItem('Other', 2725, 826, 46, 48),
    legendItem('Amplification', 78, 1803, 47, 50),
    legendItem('Deletion', 536, 1803, 47, 50),
    legendItem('Missense mutation', 876, 1803, 47, 50),
    legendItem('Nonsense mutation', 1387, 1803, 47, 50),
    legendItem('Frameshift indel', 1907, 1803, 47, 50),
    legendItem('In-frame indels', 2483, 1803, 47, 50),
    legendItem('Splice', 3020, 1803, 47, 50)
  ],
  graphic: [
    {type: 'rect', shape: {x: 2, y: 2, width: 3934, height: 1905}, style: {fill: 'none', stroke: '#111', lineWidth: 4}, silent: true},
    {type: 'text', x: 107, y: 253, style: {text: 'Low', fontSize: 50, fontFamily: FONT, fill: '#000', verticalAlign: 'middle'}},
    {type: 'text', x: 3241, y: 253, style: {text: 'High', fontSize: 50, fontFamily: FONT, fill: '#000', align: 'right', verticalAlign: 'middle'}},
    {type: 'text', x: 3314, y: 253, style: {text: 'OncoCast risk score', fontSize: 60, fontFamily: FONT, fill: '#000', verticalAlign: 'middle'}},
    {type: 'text', x: 3314, y: 492, style: {text: 'Mutation burden', fontSize: 60, fontFamily: FONT, fill: '#000', verticalAlign: 'middle'}},
    {type: 'text', x: 3314, y: 688, style: {text: 'Mutational signature', fontSize: 60, fontFamily: FONT, fill: '#000', verticalAlign: 'middle'}},
    {type: 'text', x: 3314, y: 758, style: {text: 'fraction', fontSize: 60, fontFamily: FONT, fill: '#000', verticalAlign: 'middle'}},
    {type: 'text', x: 3314, y: 925, style: {text: 'Smoking status', fontSize: 60, fontFamily: FONT, fill: '#000', verticalAlign: 'middle'}},
    {type: 'text', x: 3314, y: 997, style: {text: '(former/current)', fontSize: 60, fontFamily: FONT, fill: '#000', verticalAlign: 'middle'}}
  ],
  series: series
};

const chart = echarts.init(document.getElementById('chart'), null, {renderer: 'svg', width: 3940, height: 1911});
chart.setOption(option);
</script></body></html>
